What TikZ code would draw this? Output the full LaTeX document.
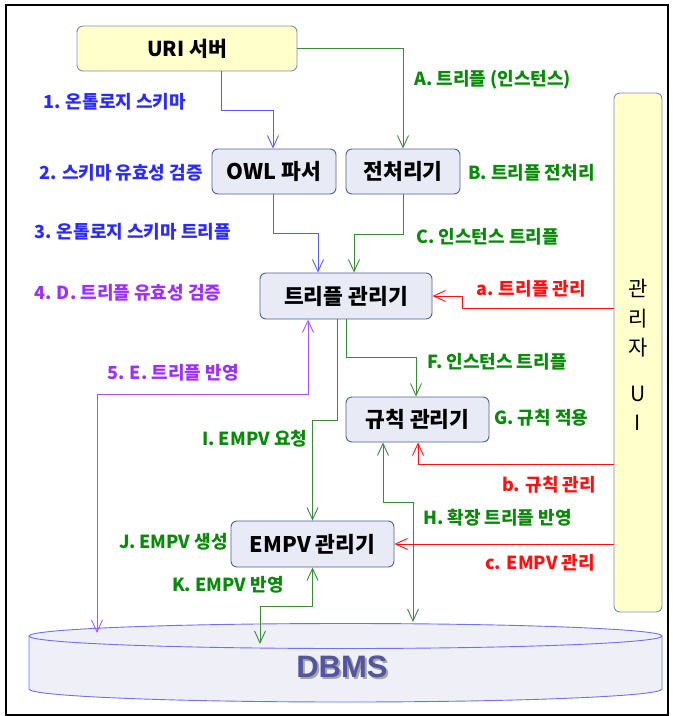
\documentclass[tikz,border=0pt]{standalone}
\usepackage{fontspec}
\setmainfont{Noto Sans CJK KR}
\newfontfamily\dbfont{Liberation Sans}
\usetikzlibrary{arrows.meta}
\definecolor{blueT}{HTML}{2B2BFF}
\definecolor{blueL}{HTML}{5B5BFF}
\definecolor{greenT}{HTML}{0A8A0A}
\definecolor{greenL}{HTML}{3A8A3A}
\definecolor{purpT}{HTML}{9B30FF}
\definecolor{purpL}{HTML}{A855F7}
\definecolor{redT}{HTML}{FF1010}
\definecolor{boxF}{HTML}{E8EAF6}
\definecolor{boxD}{HTML}{506090}
\definecolor{yelF}{HTML}{FFFFCC}
\definecolor{yelD}{HTML}{7C8DB5}
\definecolor{dbF}{HTML}{EEEFF7}
\definecolor{dbD}{HTML}{7070F0}
\definecolor{dbT}{HTML}{52559F}
\tikzset{
  box/.style={draw=boxD, fill=boxF, rounded corners=6pt, line width=0.9pt, inner sep=0pt,
    font=\fontsize{21.5}{24}\selectfont\bfseries},
  ybox/.style={draw=yelD, fill=yelF, rounded corners=6pt, line width=0.9pt, inner sep=0pt,
    font=\fontsize{20.5}{24}\selectfont\bfseries},
  lbl/.style={inner sep=0pt, font=\fontsize{18}{20}\selectfont\bfseries},
  conn/.style={line width=0.9pt, -{Straight Barb[length=12pt,width=11pt]}},
  bconn/.style={line width=0.9pt, {Straight Barb[length=12pt,width=11pt]}-{Straight Barb[length=12pt,width=11pt]}},
}
\begin{document}
\begin{tikzpicture}[x=1pt,y=-1pt]
\useasboundingbox (0,0) rectangle (673,716);
\draw[line width=2pt] (6,5) rectangle (668,715);

% DBMS cylinder
\fill[dbF] (29,636) -- (29,689) arc[start angle=180,end angle=360,x radius=316.5pt,y radius=13pt]
  -- (662,636) arc[start angle=0,end angle=180,x radius=316.5pt,y radius=12.5pt] -- cycle;
\draw[dbD, line width=0.9pt] (29,636) -- (29,689) arc[start angle=180,end angle=360,x radius=316.5pt,y radius=13pt] -- (662,636);
\draw[dbD, line width=0.9pt, fill=dbF] (345.5,636) ellipse [x radius=316.5pt, y radius=12.5pt];
\node[font=\dbfont\fontsize{31}{34}\selectfont\bfseries] (dbt) at (342,668)
  {\makebox[0pt][l]{\raisebox{-2pt}{\hspace{2pt}\textcolor{black!35}{DBMS}}}\textcolor{dbT}{DBMS}};
\coordinate (dbP) at (97,633);
\coordinate (dbH) at (413,622);
\coordinate (dbK) at (260,644);

% boxes
\node[ybox, minimum width=220pt, minimum height=45pt] (uri) at (187,48.5) {URI 서버};
\node[box, minimum width=124pt, minimum height=45pt] (owl) at (274,171.5) {OWL 파서};
\node[box, minimum width=114pt, minimum height=45pt] (pre) at (403,171.5) {전처리기};
\node[box, minimum width=172pt, minimum height=46pt] (tm) at (346,296) {트리플 관리기};
\node[box, minimum width=143pt, minimum height=45pt] (rule) at (417.5,419.5) {규칙 관리기};
\node[box, minimum width=163pt, minimum height=46pt] (emp) at (312.5,544) {EMPV 관리기};
\node[ybox, minimum width=48pt, minimum height=519pt] (ui) at (638,352.5) {};
\node[inner sep=0pt, align=center, font=\fontsize{21}{29.5}\selectfont] (uit) at (638,355) {관\\리\\자\\[16pt]U\\I};

% connectors
\draw[conn, blueL] ([xshift=34pt]uri.south) -- ++(0,39) -| ([xshift=-1pt]owl.north);
\draw[conn, greenL] (uri.east) -| (pre.north);
\draw[conn, blueL] ([xshift=-1pt]owl.south) -- ++(0,39) -| ([xshift=-28pt]tm.north);
\draw[conn, greenL] (pre.south) -- ++(0,40) -| ([xshift=8pt]tm.north);
\draw[conn, redT] ([yshift=44.5pt]ui.west) -- ++(-151,0) |- (tm.east);
\draw[bconn, purpL] ([xshift=-38pt]tm.south) -- ++(0,75) -| (dbP);
\draw[conn, greenL] (tm.south) -- ++(0,38) -| ([xshift=-1.5pt]rule.north);
\draw[conn, greenL] ([xshift=-9pt]tm.south) -- ++(0,101) -| (emp.north);
\draw[conn, redT] ([yshift=-111.5pt]ui.west) -| ([xshift=0.5pt]rule.south);
\draw[bconn, greenL] ([xshift=-34.5pt]rule.south) -- ++(0,60) -| (dbH);
\draw[conn, redT] (ui.west |- emp.east) -- (emp.east);
\draw[bconn, greenL] (emp.south) -- ++(0,39) -| (dbK);

% labels
\node[lbl, text=blueT, anchor=west] (l1) at (43,102) {1. 온톨로지 스키마};
\node[lbl, text=blueT, anchor=east] (l2) at (203,173) {2. 스키마 유효성 검증};
\node[lbl, text=blueT, anchor=west] (l3) at (34,232) {3. 온톨로지 스키마 트리플};
\node[lbl, text=purpT, anchor=west] (l4) at (34,293) {4. D. 트리플 유효성 검증};
\node[lbl, text=purpT, anchor=west] (l5) at (107,373) {5. E. 트리플 반영};
\node[lbl, text=greenT, anchor=west] (lA) at (414,80) {A. 트리플 (인스턴스)};
\node[lbl, text=greenT, anchor=west] (lB) at (468,173) {B. 트리플 전처리};
\node[lbl, text=greenT, anchor=west] (lC) at (416,237) {C. 인스턴스 트리플};
\node[lbl, text=redT, anchor=west] (la) at (476,289) {a. 트리플 관리};
\node[lbl, text=greenT, anchor=west] (lF) at (427,362) {F. 인스턴스 트리플};
\node[lbl, text=greenT, anchor=west] (lG) at (494,418) {G. 규칙 적용};
\node[lbl, text=greenT, anchor=west] (lI) at (202,439) {I. EMPV 요청};
\node[lbl, text=redT, anchor=west] (lb) at (502,485) {b. 규칙 관리};
\node[lbl, text=greenT, anchor=west] (lH) at (423,518) {H. 확장 트리플 반영};
\node[lbl, text=greenT, anchor=east] (lJ) at (228,542) {J. EMPV 생성};
\node[lbl, text=redT, anchor=west] (lc) at (485,563) {c. EMPV 관리};
\node[lbl, text=greenT, anchor=west] (lK) at (172,585) {K. EMPV 반영};
\end{tikzpicture}
\end{document}
